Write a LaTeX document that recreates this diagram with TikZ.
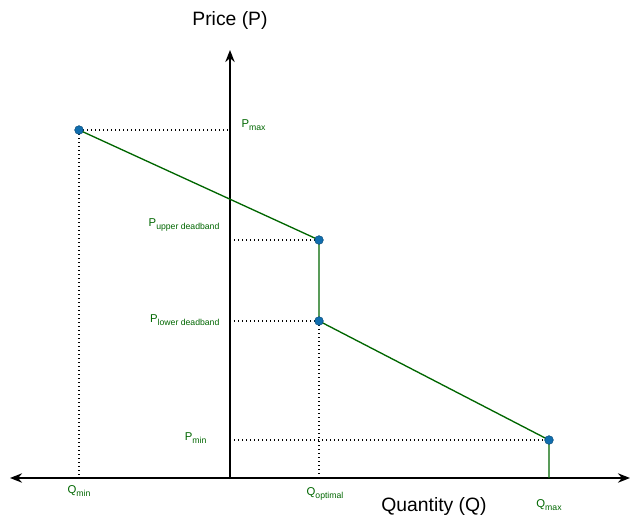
\documentclass[tikz,border=0pt]{standalone}
\usepackage{fontspec}
\setmainfont{Liberation Sans}
\usetikzlibrary{arrows.meta}
\definecolor{lg}{RGB}{0,102,0}
\definecolor{pt}{RGB}{16,110,175}
\newcommand{\sbs}[1]{\raisebox{-2.5pt}{\fontsize{6.5pt}{7pt}\selectfont #1}}
\begin{document}
\begin{tikzpicture}[x=0.75pt,y=-0.75pt,
  ax/.style={line width=1.6pt,-{Stealth[length=9pt,width=7pt]}},
  dots/.style={dotted,line width=1pt},
  curve/.style={lg,line width=1pt},
  dotn/.style={circle,fill=pt,draw=pt!70!black,inner sep=0pt,minimum size=6.5pt},
  lab/.style={text=lg,font=\fontsize{8.5pt}{10pt}\selectfont,inner sep=1pt}]
\useasboundingbox (0,0) rectangle (640,526);
\coordinate (o) at (230,478);
\coordinate (l) at (10,478);
\coordinate (r) at (630,478);
\coordinate (t) at (230,50);
\draw[ax] (o) -- (l);
\draw[ax] (o) -- (r);
\draw[ax] (230,479) -- (t);
\node[font=\fontsize{14.5pt}{17pt}\selectfont] (py) at (230,20) {Price (P)};
\node[font=\fontsize{14.5pt}{17pt}\selectfont] (qx) at (434,506) {Quantity (Q)};
\coordinate (a) at (79,130);
\coordinate (b) at (319,240);
\coordinate (c) at (319,321);
\coordinate (d) at (549,440);
\coordinate (aq) at (79,478);
\coordinate (ap) at (230,130);
\coordinate (bp) at (230,240);
\coordinate (cp) at (230,321);
\coordinate (cq) at (319,478);
\coordinate (dp) at (230,440);
\coordinate (dq) at (549,478);
\draw[dots] (a) -- (ap);
\draw[dots] (a) -- (aq);
\draw[dots] (bp) -- (b);
\draw[dots] (cp) -- (c);
\draw[dots] (c) -- (cq);
\draw[dots] (dp) -- (d);
\draw[curve] (a) -- (b) -- (c) -- (d) -- (dq);
\foreach \p in {a,b,c,d} \node[dotn] (n\p) at (\p) {};
\node[lab,anchor=west] (lpmax) at (240,125) {P\sbs{max}};
\node[lab,anchor=east] (lpu) at (221,225) {P\sbs{upper deadband}};
\node[lab,anchor=east] (lpl) at (221,320) {P\sbs{lower deadband}};
\node[lab,anchor=east] (lpmin) at (208,438) {P\sbs{min}};
\node[lab] (lqmin) at (79,491) {Q\sbs{min}};
\node[lab] (lqopt) at (325,494) {Q\sbs{optimal}};
\node[lab] (lqmax) at (549,505) {Q\sbs{max}};
\end{tikzpicture}
\end{document}
